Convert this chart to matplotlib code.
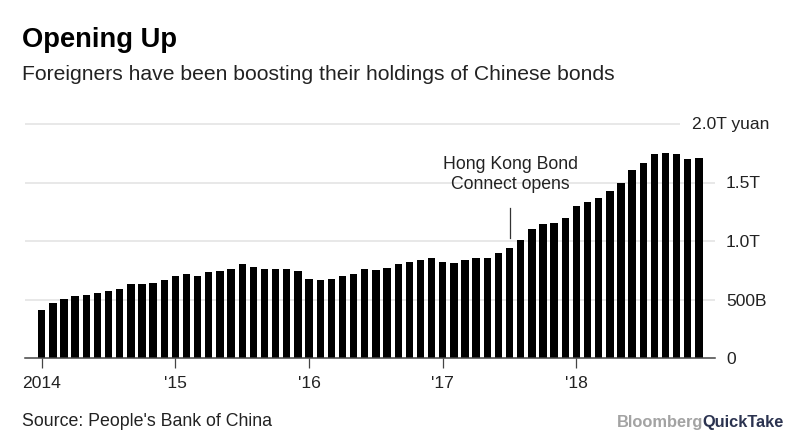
import matplotlib
matplotlib.use('Agg')
import matplotlib.pyplot as plt
import numpy as np

plt.rcParams['font.family'] = ['Liberation Sans', 'DejaVu Sans']

# holdings in billion yuan, monthly Jan 2014 - Dec 2018
holdings = [413, 467, 507, 527, 538, 558, 570, 590, 632, 632, 644, 664,
            704, 715, 704, 735, 746, 758, 800, 778, 758, 758, 758, 746,
            672, 664, 672, 704, 715, 761, 749, 772, 803, 823, 835, 855,
            823, 812, 835, 855, 855, 897, 940, 1011, 1105, 1148, 1157, 1199,
            1302, 1336, 1365, 1430, 1493, 1607, 1670, 1744, 1752, 1744, 1701, 1712]
year_pos = [0, 12, 24, 36, 48]
year_labels = ['2014', "'15", "'16", "'17", "'18"]
y_pos = [0, 500, 1000, 1500]
y_labels = ['0', '500B', '1.0T', '1.5T']

W, H = 800, 442
fig = plt.figure(figsize=(W / 100, H / 100), dpi=100)
ax = fig.add_axes([25 / W, (H - 358) / H, 690 / W, 234 / H])

months = np.arange(len(holdings))
ax.set_xlim(-1.5, 60.44)
ax.set_ylim(0, 2000)

for v in y_pos[1:]:
    ax.axhline(v, color='#e2e2e2', lw=1.1, zorder=1)
ax.hlines(2000, -1.5, 57.3, color='#e2e2e2', lw=1.1, zorder=1, clip_on=False)
ax.bar(months, holdings, width=0.66, color='black', zorder=2)

for s in ['top', 'left', 'right']:
    ax.spines[s].set_visible(False)
ax.spines['bottom'].set_color('#444444')
ax.spines['bottom'].set_linewidth(1.1)
ax.spines['bottom'].set_zorder(3)

ax.set_xticks(year_pos)
ax.set_xticklabels(year_labels, fontsize=12.6, color='#222222')
ax.tick_params(axis='x', length=7, width=0.9, color='#444444', pad=6)

ax.yaxis.tick_right()
ax.set_yticks(y_pos)
ax.set_yticklabels(y_labels, fontsize=12.6, color='#222222')
ax.tick_params(axis='y', length=0, pad=8)
ax.text(692 / W, (H - 124) / H, '2.0T yuan', transform=fig.transFigure, fontsize=12.6,
        color='#222222', va='center', ha='left')

# bond connect note
ax.plot([42.04, 42.04], [1024, 1285], color='#333333', lw=0.9, zorder=3)
ax.text(42.04, 1572, 'Hong Kong Bond\nConnect opens', ha='center', va='center',
        fontsize=12.7, color='#222222', linespacing=1.22)

fig.text(22 / W, (H - 40) / H, 'Opening Up', fontsize=19.7, fontweight='bold', color='black', va='center')
fig.text(22 / W, (H - 74) / H, 'Foreigners have been boosting their holdings of Chinese bonds',
         fontsize=15.2, color='#222222', va='center')
fig.text(22 / W, (H - 422) / H, "Source: People's Bank of China", fontsize=12.8, color='#222222', va='center')

# logo text, second word placed right after the first
r = fig.canvas.get_renderer()
t1 = fig.text(617 / W, (H - 423) / H, 'Bloomberg', fontsize=11.8, fontweight='bold', color='#a3a3a3', va='center')
end = t1.get_window_extent(r).x1 - 1
fig.text(end / W, (H - 423) / H, 'QuickTake', fontsize=11.8, fontweight='bold', color='#2b3350', va='center')

fig.savefig('out.png', dpi=100)
